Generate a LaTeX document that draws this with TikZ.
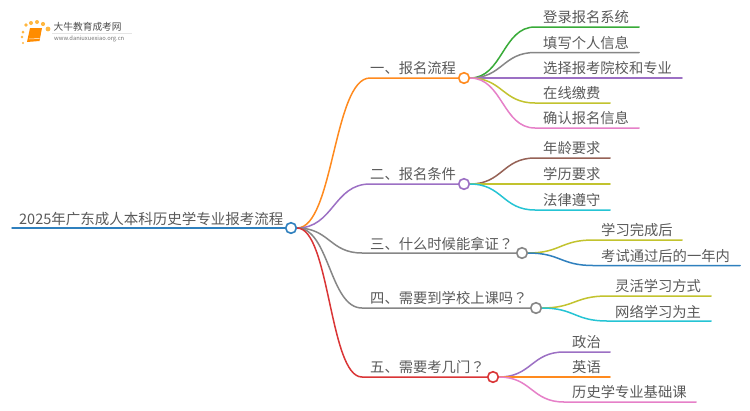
\documentclass[tikz,border=0pt]{standalone}
\usepackage{fontspec}
\setmainfont{Noto Sans CJK SC}
\newfontfamily\qfont{Noto Sans CJK TC}
\usetikzlibrary{calc}
\definecolor{cblue}{HTML}{2F80BE}
\definecolor{corange}{HTML}{FF8A1E}
\definecolor{cgreen}{HTML}{38AB38}
\definecolor{cgray}{HTML}{868686}
\definecolor{cpurple}{HTML}{9C70C4}
\definecolor{colive}{HTML}{C2C32E}
\definecolor{cpink}{HTML}{E680C8}
\definecolor{cbrown}{HTML}{966256}
\definecolor{ccyan}{HTML}{25C4D4}
\definecolor{cred}{HTML}{DA3536}
\definecolor{txt}{HTML}{5A5A5A}
\pgfdeclarelayer{wires}
\pgfsetlayers{wires,main}
\tikzset{
  x=1pt,y=-1pt,
  hub/.style={circle,draw=#1,fill=white,line width=1.6pt,minimum size=10.6pt,inner sep=0pt},
  lab/.style={anchor=west,inner sep=0pt,text=txt,font=\fontsize{14.3}{16}\selectfont},
  wire/.style={draw=#1,line width=1.5pt,line cap=round},
  spark/.style={fill=orange!75!yellow,opacity=.75},
}
\newcommand{\curve}[4]{% colour, from, via, to
  \draw[wire=#1] (#2.east) .. controls ($(#2.east)!0.5!(#3|-#2.east)$) and ($(#2.east|-#3)!0.5!(#3)$) .. (#3) -- (#4);
}
\newcommand{\qm}{{\qfont ？}}
\begin{document}
\begin{tikzpicture}
\useasboundingbox (0,0) rectangle (750,410);
\begin{pgfonlayer}{wires}
\fill[white] (0,0) rectangle (750,410);
\end{pgfonlayer}
% logo
\foreach \a/\b/\r in {23/32/1.5,26/25/1.8,31/23/2,37/22/2,43/24/2.1,48/29/2.4,22/37/1.3,23/43/1.1}
  \fill[spark] (\a,\b) circle (\r);
\draw[black!10,line width=.6pt] (52,33) -- (132,33);
\fill[orange!90!yellow] (30,28) -- (42,28) -- (39.5,41) -- (27,42) -- cycle;
\draw[white,line width=.5pt] (29,39) -- (39.5,38.5);
\node[anchor=west,inner sep=0pt,text=black!70,font=\fontsize{9.7}{11}\selectfont] (brand) at (53.5,27) {大牛教育成考网};
\node[anchor=west,inner sep=0pt,text=black!55,font=\fontsize{5.8}{7}\selectfont] (url) at (54,39) {www.daniuxuexiao.org.cn};
% root
\coordinate (rs) at (12,228);
\node[hub=cblue] (root) at (291,228) {};
\node[lab,font=\fontsize{14.5}{16}\selectfont] (roottxt) at (19,218.5) {2025年广东成人本科历史学专业报考流程};
% branch coordinates
\coordinate (b1s) at (370,78);
\coordinate (b2s) at (370,184);
\coordinate (b3s) at (362,253);
\coordinate (b4s) at (362,308);
\coordinate (b5s) at (362,377);
\node[hub=corange] (h1) at (464,78) {};
\node[hub=cpurple] (h2) at (464,184) {};
\node[hub=cgray] (h3) at (522,253) {};
\node[hub=cgray] (h4) at (536,308) {};
\node[hub=cred] (h5) at (493,377) {};
% leaf coordinates
\coordinate (a1s) at (535,27);   \coordinate (a1e) at (639,27);
\coordinate (a2s) at (535,52.5); \coordinate (a2e) at (639,52.5);
\coordinate (a3s) at (535,78);   \coordinate (a3e) at (682,78);
\coordinate (a4s) at (535,103);  \coordinate (a4e) at (610,103);
\coordinate (a5s) at (535,128);  \coordinate (a5e) at (639,128);
\coordinate (c1s) at (535,158);  \coordinate (c1e) at (610,158);
\coordinate (c2s) at (535,184);  \coordinate (c2e) at (610,184);
\coordinate (c3s) at (535,210);  \coordinate (c3e) at (610,210);
\coordinate (d1s) at (593,240);  \coordinate (d1e) at (682,240);
\coordinate (d2s) at (593,265.5);\coordinate (d2e) at (740,265.5);
\coordinate (f1s) at (607,296);  \coordinate (f1e) at (711,296);
\coordinate (f2s) at (607,321);  \coordinate (f2e) at (711,321);
\coordinate (g1s) at (564,352);  \coordinate (g1e) at (610,352);
\coordinate (g2s) at (564,377);  \coordinate (g2e) at (610,377);
\coordinate (g3s) at (564,402);  \coordinate (g3e) at (696,402);
% connectors
\begin{pgfonlayer}{wires}
\curve{corange}{root}{b1s}{h1}
\curve{cpurple}{root}{b2s}{h2}
\curve{cgray}{root}{b3s}{h3}
\curve{cgray}{root}{b4s}{h4}
\curve{cred}{root}{b5s}{h5}
\curve{cgreen}{h1}{a1s}{a1e}
\curve{cgray}{h1}{a2s}{a2e}
\curve{cpurple}{h1}{a3s}{a3e}
\curve{colive}{h1}{a4s}{a4e}
\curve{cpink}{h1}{a5s}{a5e}
\curve{cbrown}{h2}{c1s}{c1e}
\curve{colive}{h2}{c2s}{c2e}
\curve{ccyan}{h2}{c3s}{c3e}
\curve{colive}{h3}{d1s}{d1e}
\curve{cblue}{h3}{d2s}{d2e}
\curve{colive}{h4}{f1s}{f1e}
\curve{ccyan}{h4}{f2s}{f2e}
\curve{cpurple}{h5}{g1s}{g1e}
\curve{corange}{h5}{g2s}{g2e}
\curve{cpink}{h5}{g3s}{g3e}
\draw[wire=cblue] (rs) -- (root);
\end{pgfonlayer}
% labels
\node[lab] (b1) at (370,68.5) {一、报名流程};
\node[lab] (b2) at (370,174.5) {二、报名条件};
\node[lab] (b3) at (370,243.5) {三、什么时候能拿证\qm};
\node[lab] (b4) at (370,298.5) {四、需要到学校上课吗\qm};
\node[lab] (b5) at (370,367.5) {五、需要考几门\qm};
\node[lab] (a1) at (543,17.5) {登录报名系统};
\node[lab] (a2) at (543,43) {填写个人信息};
\node[lab] (a3) at (543,68.5) {选择报考院校和专业};
\node[lab] (a4) at (543,93.5) {在线缴费};
\node[lab] (a5) at (543,118.5) {确认报名信息};
\node[lab] (c1) at (543,148.5) {年龄要求};
\node[lab] (c2) at (543,174.5) {学历要求};
\node[lab] (c3) at (543,200.5) {法律遵守};
\node[lab] (d1) at (601,230.5) {学习完成后};
\node[lab] (d2) at (601,256) {考试通过后的一年内};
\node[lab] (f1) at (615,286.5) {灵活学习方式};
\node[lab] (f2) at (615,311.5) {网络学习为主};
\node[lab] (g1) at (572,342.5) {政治};
\node[lab] (g2) at (572,367.5) {英语};
\node[lab] (g3) at (572,392.5) {历史学专业基础课};
\end{tikzpicture}
\end{document}
